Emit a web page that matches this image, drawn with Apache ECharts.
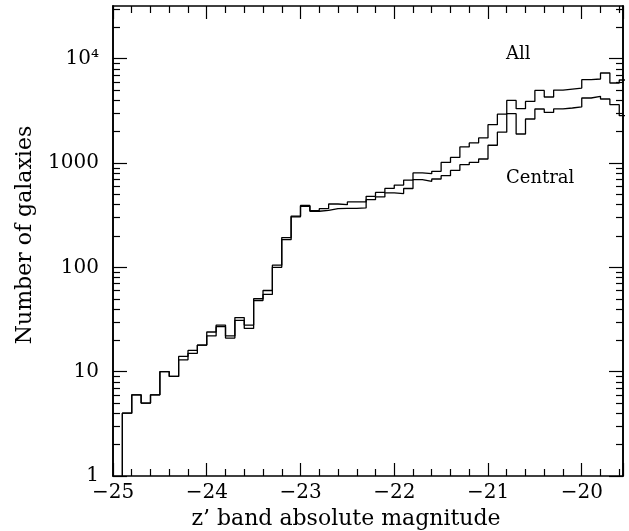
<!DOCTYPE html>
<html>
<head>
<meta charset="utf-8">
<script src="https://cdn.jsdelivr.net/npm/echarts@6/dist/echarts.min.js"></script>
<style>
  html, body { margin: 0; padding: 0; background: #fff; }
  #chart { width: 629px; height: 531px; }
</style>
</head>
<body>
<div id="chart"></div>
<script>
// Left edges of the 0.1 mag bins
const binStarts = [
  -24.9, -24.8, -24.7, -24.6, -24.5, -24.4, -24.3, -24.2, -24.1, -24.0,
  -23.9, -23.8, -23.7, -23.6, -23.5, -23.4, -23.3, -23.2, -23.1, -23.0,
  -22.9, -22.8, -22.7, -22.6, -22.5, -22.4, -22.3, -22.2, -22.1, -22.0,
  -21.9, -21.8, -21.7, -21.6, -21.5, -21.4, -21.3, -21.2, -21.1, -21.0,
  -20.9, -20.8, -20.7, -20.6, -20.5, -20.4, -20.3, -20.2, -20.1, -20.0,
  -19.9, -19.8, -19.7, -19.6
];
const binWidth = 0.1;

// Galaxy counts per bin
const allCounts = [
  4, 6, 5, 6, 10, 9, 14, 16, 18, 24,
  28, 22, 33, 28, 50, 60, 105, 193, 310, 392,
  349, 365, 405, 399, 424, 424, 479, 523, 571, 615,
  687, 803, 790, 832, 1014, 1132, 1426, 1557, 1739, 2330,
  2940, 3985, 3318, 3898, 4967, 4296, 5000, 5120, 5230, 6300,
  6390, 7295, 5850, 6250
];
const centralCounts = [
  4, 6, 5, 6, 10, 9, 13, 15, 18, 22,
  27, 21, 31, 26, 48, 55, 100, 184, 305, 385,
  345, 351, 365, 367, 367, 371, 445, 473, 517, 510,
  570, 692, 667, 703, 757, 850, 964, 1014, 1093, 1480,
  1975, 2972, 1898, 2643, 3296, 3056, 3300, 3370, 3450, 4200,
  4355, 4110, 3622, 2843
];

// Axis ticks
const xRange = [-25, -19.56];
const yRange = [1, 32000];
const yMajorTicks = [1, 10, 100, 1000, 10000];
const yMajorLabels = ['1', '10', '100', '1000', '10\u2074'];
const yMinorTicks = [];
for (const decade of [1, 10, 100, 1000, 10000]) {
  for (let k = 2; k <= 9; k++) {
    const v = decade * k;
    if (v < yRange[1]) yMinorTicks.push(v);
  }
}

// Build a histogram outline: rise from the axis floor, then one step per bin
function histogram(counts) {
  const pts = [[binStarts[0], yRange[0]]];
  for (let i = 0; i < binStarts.length; i++) pts.push([binStarts[i], counts[i]]);
  const last = binStarts.length - 1;
  pts.push([+(binStarts[last] + binWidth).toFixed(2), counts[last]]);
  return pts;
}

const FONT = 'DejaVu Serif';
const INK = '#000';

function xAxisDef(position, showLabels) {
  return {
    type: 'value', position, min: xRange[0], max: xRange[1], interval: 1,
    axisLine: { show: true, onZero: false, lineStyle: { color: INK, width: 1.6 } },
    axisTick: { show: true, inside: true, length: 13, lineStyle: { color: INK, width: 1.2 } },
    minorTick: { show: true, splitNumber: 5, length: 7, lineStyle: { color: INK, width: 1.2 } },
    splitLine: { show: false }, minorSplitLine: { show: false },
    axisLabel: {
      show: showLabels, margin: 7, color: INK, fontFamily: FONT, fontSize: 20,
      formatter: v => Number.isInteger(v) ? (v < 0 ? '\u2212' + Math.abs(v) : String(v)) : ''
    }
  };
}

function yAxisDef(position, ticks, len, labels) {
  return {
    type: 'log', logBase: 10, position, min: yRange[0], max: yRange[1],
    axisLine: { show: true, onZero: false, lineStyle: { color: INK, width: 1.6 } },
    axisTick: { show: true, inside: true, length: len, customValues: ticks,
                lineStyle: { color: INK, width: 1.2 } },
    splitLine: { show: false },
    axisLabel: labels ? {
      show: true, customValues: yMajorTicks, margin: 14, color: INK,
      fontFamily: FONT, fontSize: 20,
      formatter: v => {
        const i = yMajorTicks.findIndex(t => Math.abs(t - v) / t < 1e-6);
        return i >= 0 ? yMajorLabels[i] : '';
      }
    } : { show: false }
  };
}

const chart = echarts.init(document.getElementById('chart'), null, { renderer: 'canvas' });
chart.setOption({
  animation: false,
  backgroundColor: '#fff',
  grid: { left: 113, top: 6, width: 510, height: 470, containLabel: false },
  xAxis: [xAxisDef('bottom', true), xAxisDef('top', false)],
  yAxis: [
    yAxisDef('left', yMajorTicks, 14, true),
    yAxisDef('left', yMinorTicks, 7, false),
    yAxisDef('right', yMajorTicks, 14, false),
    yAxisDef('right', yMinorTicks, 7, false)
  ],
  series: [
    {
      name: 'All', type: 'line', step: 'end', data: histogram(allCounts),
      xAxisIndex: 0, yAxisIndex: 0, symbol: 'none', clip: true,
      lineStyle: { color: INK, width: 1.3 }
    },
    {
      name: 'Central', type: 'line', step: 'end', data: histogram(centralCounts),
      xAxisIndex: 0, yAxisIndex: 0, symbol: 'none', clip: true,
      lineStyle: { color: INK, width: 1.3 }
    }
  ],
  graphic: [
    { type: 'text', left: 506, top: 45, style: { text: 'All', font: '18px "DejaVu Serif"', fill: INK } },
    { type: 'text', left: 506, top: 169, style: { text: 'Central', font: '18px "DejaVu Serif"', fill: INK } },
    { type: 'text', x: 346, y: 519, style: { text: 'z\u2019 band absolute magnitude',
      font: '22px "DejaVu Serif"', fill: INK, align: 'center', verticalAlign: 'middle' } },
    { type: 'text', x: 25, y: 235, rotation: Math.PI / 2, style: { text: 'Number of galaxies',
      font: '22px "DejaVu Serif"', fill: INK, align: 'center', verticalAlign: 'middle' } }
  ]
});
</script>
</body>
</html>
